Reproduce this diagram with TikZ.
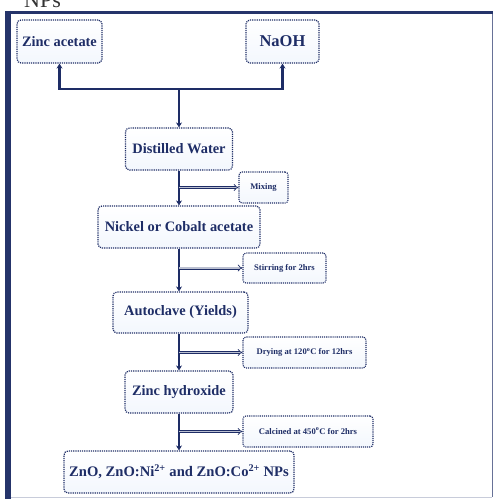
\documentclass[tikz,border=0pt]{standalone}
\usepackage{fontspec}
\setmainfont{Liberation Serif}
\usetikzlibrary{arrows.meta}
\definecolor{navy}{HTML}{1E2D66}
\definecolor{boxfill}{HTML}{F3F7FD}
\definecolor{framecol}{HTML}{25346A}
\tikzset{
  procbox/.style={draw=navy, line width=1.2pt, densely dotted, rounded corners=4pt,
    top color=white, bottom color=boxfill, text=navy, font=\bfseries\fontsize{14.4}{16}\selectfont,
    inner sep=2pt, align=center},
  notebox/.style={draw=navy, line width=1.1pt, densely dotted, rounded corners=3pt,
    top color=white, bottom color=boxfill, text=navy, font=\bfseries\fontsize{8.6}{10}\selectfont,
    inner sep=2pt, align=center},
  mainline/.style={draw=navy, line width=2.2pt, -{Stealth[length=5pt,width=6pt]}},
  sideline/.style={draw=navy, line width=0.7pt, double=white!70!navy, double distance=1.6pt, -{Implies}},
}
\begin{document}
\begin{tikzpicture}[x=1pt,y=-1pt]
\useasboundingbox (0,0) rectangle (494,501);
\fill[white] (0,0) rectangle (494,501);
% clipped heading fragment
\begin{scope}
\clip (0,0) rectangle (494,8.5);
\node[anchor=base west, font=\fontsize{22}{24}\selectfont, text=black!80, inner sep=0pt] (hd) at (24,7) {NPs};
\end{scope}
% frame
\draw[framecol!70, line width=1pt] (492,12) -- (492,497);
\draw[framecol!25, line width=1pt] (8,497) -- (492,497);
\draw[framecol, line width=3.5pt] (5,12.5) -- (493,12.5);
\draw[framecol, line width=5.5pt] (8,10.5) -- (8,499);
% nodes
\node[procbox, minimum width=85pt, minimum height=43pt] (za) at (59.5,41.5) {Zinc acetate};
\node[procbox, minimum width=73pt, minimum height=43pt, font=\bfseries\fontsize{16.5}{18}\selectfont] (naoh) at (282.5,41.5) {NaOH};
\node[procbox, minimum width=107pt, minimum height=42pt] (dw) at (179,149) {Distilled Water};
\node[notebox, minimum width=49pt, minimum height=31pt] (mix) at (263.5,187.5) {Mixing};
\node[procbox, minimum width=162pt, minimum height=42pt] (nca) at (179,227) {Nickel or Cobalt acetate};
\node[notebox, minimum width=83pt, minimum height=30pt] (stir) at (284.5,268) {Stirring for 2hrs};
\node[procbox, minimum width=135pt, minimum height=41pt] (auto) at (180.5,312.5) {Autoclave (Yields)};
\node[notebox, minimum width=123pt, minimum height=31pt] (dry) at (304.5,352.5) {Drying at 120\textsuperscript{o}C for 12hrs};
\node[procbox, minimum width=108pt, minimum height=42pt] (zh) at (179,392) {Zinc hydroxide};
\node[notebox, minimum width=130pt, minimum height=31pt] (calc) at (308,431.5) {Calcined at 450\textsuperscript{o}C for 2hrs};
\node[procbox, minimum width=230pt, minimum height=42pt, font=\bfseries\fontsize{14.6}{17}\selectfont] (fin) at (179,472) {ZnO, ZnO:Ni\textsuperscript{2+} and ZnO:Co\textsuperscript{2+} NPs};
% connectors
\coordinate (j) at (179,89);
\draw[mainline] (j) -| (za.south);
\draw[mainline] (j) -| (naoh.south);
\draw[mainline] (j) -- (dw.north);
\draw[mainline] (dw.south) -- (nca.north);
\draw[mainline] (nca.south) -- (nca.south |- auto.north);
\draw[mainline] (nca.south |- auto.south) -- (zh.north);
\draw[mainline] (zh.south) -- (fin.north);
\draw[sideline] (dw.south |- mix.west) -- (mix.west);
\draw[sideline] (nca.south |- stir.west) -- (stir.west);
\draw[sideline] (zh.north |- dry.west) -- (dry.west);
\draw[sideline] (zh.south |- calc.west) -- (calc.west);
\end{tikzpicture}
\end{document}
